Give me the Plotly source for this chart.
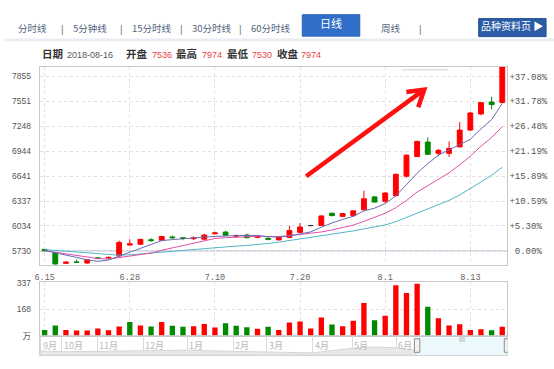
import plotly.graph_objects as go

# ---------------- data ----------------
dates = ["2018-06-15", "2018-06-19", "2018-06-20", "2018-06-21", "2018-06-22", "2018-06-25",
         "2018-06-26", "2018-06-27", "2018-06-28", "2018-06-29", "2018-07-02", "2018-07-03",
         "2018-07-04", "2018-07-05", "2018-07-06", "2018-07-09", "2018-07-10", "2018-07-11",
         "2018-07-12", "2018-07-13", "2018-07-16", "2018-07-17", "2018-07-18", "2018-07-19",
         "2018-07-20", "2018-07-23", "2018-07-24", "2018-07-25", "2018-07-26", "2018-07-27",
         "2018-07-30", "2018-07-31", "2018-08-01", "2018-08-02", "2018-08-03", "2018-08-06",
         "2018-08-07", "2018-08-08", "2018-08-09", "2018-08-10", "2018-08-13", "2018-08-14",
         "2018-08-15", "2018-08-16"]
opens = [5748, 5706, 5578, 5595, 5582, 5645, 5642, 5668, 5800, 5810, 5865, 5860, 5900, 5890, 5878,
         5872, 5938, 5958, 5908, 5922, 5893, 5882, 5863, 5893, 5955, 6038, 6040, 6188, 6150, 6158,
         6229, 6387, 6335, 6403, 6639, 6878, 7055, 6918, 6918, 6996, 7201, 7397, 7543, 7536]
highs = [5752, 5710, 5608, 5625, 5628, 5655, 5662, 5855, 5872, 5875, 5885, 5912, 5915, 5893, 5905,
         5938, 5962, 5975, 5930, 5940, 5918, 5895, 5905, 6035, 6068, 6048, 6165, 6195, 6190, 6222,
         6462, 6400, 6445, 6670, 6905, 7072, 7111, 6970, 7063, 7299, 7420, 7540, 7606, 7974]
lows = [5725, 5566, 5568, 5588, 5575, 5628, 5632, 5660, 5795, 5805, 5840, 5852, 5880, 5860, 5862,
        5868, 5930, 5912, 5893, 5882, 5888, 5858, 5858, 5888, 5950, 6030, 6035, 6150, 6140, 6150,
        6222, 6318, 6308, 6390, 6623, 6875, 6900, 6886, 6875, 6990, 7190, 7382, 7453, 7530]
closes = [5730, 5570, 5592, 5590, 5622, 5637, 5650, 5832, 5815, 5870, 5855, 5905, 5890, 5882, 5888,
          5922, 5948, 5920, 5916, 5890, 5912, 5872, 5899, 5978, 6020, 6038, 6155, 6160, 6185, 6217,
          6364, 6324, 6434, 6662, 6895, 7063, 6906, 6954, 6977, 7201, 7409, 7535, 7512, 7974]
ma5 = [5736, 5706, 5677, 5647, 5621, 5602, 5618, 5666, 5711, 5761, 5804, 5855, 5867, 5880, 5884,
       5897, 5906, 5912, 5919, 5919, 5917, 5902, 5898, 5910, 5936, 5961, 6018, 6070, 6112, 6151,
       6216, 6250, 6305, 6400, 6536, 6676, 6792, 6896, 6959, 7020, 7089, 7215, 7327, 7526]
ma10 = [5732, 5712, 5692, 5672, 5652, 5636, 5630, 5650, 5672, 5691, 5703, 5737, 5767, 5796, 5822,
        5851, 5881, 5890, 5900, 5902, 5907, 5904, 5905, 5915, 5928, 5939, 5960, 5984, 6011, 6044,
        6089, 6134, 6188, 6256, 6343, 6446, 6521, 6600, 6680, 6778, 6883, 7004, 7111, 7243]
ma20 = [5745, 5735, 5725, 5715, 5705, 5695, 5685, 5677, 5682, 5693, 5704, 5715, 5727, 5739, 5751,
        5763, 5772, 5780, 5788, 5796, 5805, 5820, 5836, 5855, 5875, 5895, 5920, 5937, 5955, 5973,
        5998, 6019, 6046, 6085, 6136, 6193, 6241, 6292, 6345, 6411, 6486, 6569, 6650, 6749]
volumes = [37, 65, 36, 33, 33, 47, 35, 59, 87, 65, 59, 87, 63, 57, 61, 75, 53, 79, 63, 55,
           45, 57, 36, 85, 91, 47, 116, 71, 61, 96, 209, 98, 128, 321, 272, 331, 185, 112, 65, 73,
           36, 41, 35, 57]
vol_dir = [-1, -1, 1, 1, 1, 1, 1, 1, -1, 1, -1, 1, -1, -1, 1, 1, 1, -1, -1, -1,
           1, -1, 1, 1, 1, 1, 1, -1, 1, 1, 1, -1, 1, 1, 1, 1, -1, 1, 1, 1,
           1, 1, -1, 1]

price_tick_labels = ["5730", "6034", "6337", "6641", "6944", "7248", "7551", "7855"]
pct_tick_labels = ["\u00a00.00%", "+5.30%", "+10.59%", "+15.89%", "+21.19%", "+26.48%", "+31.78%", "+37.08%"]
date_tick_dates = ["2018-06-15", "2018-06-28", "2018-07-10", "2018-07-20", "2018-08-01", "2018-08-13"]
date_tick_labels = ["6.15", "6.28", "7.10", "7.20", "8.1", "8.13"]
vol_tick_vals = [0, 168, 337]
vol_tick_labels = ["万", "168", "337"]

nav_month_labels = ["9月", "10月", "11月", "12月", "1月", "2月", "3月", "4月", "5月", "6月"]
nav_month_start = [0, 10, 27, 49, 70, 92, 108, 130, 149, 170]
nav_overview_idx = [0, 10, 27, 49, 70, 92, 108, 130, 149, 160, 170, 180]
nav_overview_level = [22, 18, 20, 24, 26, 20, 17, 12, 36, 42, 38, 25]
nav_sel = [180, 223]

tab_labels = ["分时线", "5分钟线", "15分时线", "30分时线", "60分时线", "日线", "周线"]
info_date = "2018-08-16"
info_labels = ["开盘", "最高", "最低", "收盘"]
info_values = ["7536", "7974", "7530", "7974"]

# ---------------- layout / style ----------------
W, H = 554, 369
RED = "#ff0000"
GREEN = "#008a00"
GRID = "#e0e0e0"
BORDER = "#c8c8c8"
CJK = "Noto Sans CJK SC"


def px(x):
    return x / W


def py(y):
    return 1 - y / H


X0, X1 = 35, 507
MAIN_T, MAIN_B = 63.3, 267.3
VOL_T, VOL_B = 285, 340
NAV_T, NAV_B = 340, 360
XRANGE = [-0.4655, 43.484]
YRANGE = [5557, 7974]

fig = go.Figure()

n = len(dates)
normal = [i for i in range(n) if opens[i] != closes[i]]
doji = [i for i in range(n) if opens[i] == closes[i]]


def pick(arr, idx):
    return [arr[i] for i in idx]


fig.add_trace(go.Candlestick(
    x=pick(dates, normal), open=pick(opens, normal), high=pick(highs, normal),
    low=pick(lows, normal), close=pick(closes, normal),
    increasing=dict(line=dict(color=RED, width=1), fillcolor=RED),
    decreasing=dict(line=dict(color=GREEN, width=1), fillcolor=GREEN),
    whiskerwidth=0, xaxis="x", yaxis="y", hoverinfo="skip"))
if doji:
    fig.add_trace(go.Candlestick(
        x=pick(dates, doji), open=pick(opens, doji), high=pick(highs, doji),
        low=pick(lows, doji), close=pick(closes, doji),
        increasing=dict(line=dict(color="#333333", width=1), fillcolor="#333333"),
        decreasing=dict(line=dict(color="#333333", width=1), fillcolor="#333333"),
        whiskerwidth=0, xaxis="x", yaxis="y", hoverinfo="skip"))

for vals, col in [(ma20, "#52b6c6"), (ma10, "#e24fa8"), (ma5, "#6a6ab6")]:
    fig.add_trace(go.Scatter(x=dates, y=vals, mode="lines", line=dict(color=col, width=1),
                             xaxis="x", yaxis="y", hoverinfo="skip"))

# invisible trace to carry the percent axis
fig.add_trace(go.Scatter(x=dates, y=closes, mode="lines", line=dict(width=0), opacity=0,
                         xaxis="x", yaxis="y3", hoverinfo="skip"))

fig.add_trace(go.Bar(x=dates, y=volumes, width=0.5,
                     marker=dict(color=[RED if d > 0 else GREEN for d in vol_dir], line=dict(width=0)),
                     xaxis="x2", yaxis="y2", hoverinfo="skip"))

fig.add_trace(go.Scatter(x=nav_overview_idx, y=nav_overview_level, mode="lines", fill="tozeroy",
                         fillcolor="#e9e9e9", line=dict(color="#d6d6d6", width=1),
                         xaxis="x4", yaxis="y4", hoverinfo="skip"))

price_ticks = [float(t) for t in price_tick_labels]

xcommon = dict(type="category", categoryorder="array", categoryarray=dates, range=XRANGE,
               domain=[px(X0), px(X1)], tickvals=date_tick_dates, showgrid=True, gridcolor=GRID,
               griddash="3px,3px", zeroline=False, showline=True, linecolor=BORDER, mirror=True,
               ticks="", fixedrange=True)

fig.update_layout(
    width=W, height=H, margin=dict(l=0, r=0, t=0, b=0), autosize=False,
    paper_bgcolor="white", plot_bgcolor="white", showlegend=False, hovermode=False,
    boxgap=0.35,
    xaxis=dict(**xcommon, anchor="y", ticktext=date_tick_labels, showticklabels=True,
               tickfont=dict(family="Liberation Mono", size=8.5, color="#666666"),
               ticklabelstandoff=4, rangeslider=dict(visible=False)),
    yaxis=dict(domain=[py(MAIN_B), py(MAIN_T)], range=YRANGE, tickvals=price_ticks,
               ticktext=price_tick_labels, showgrid=True, gridcolor=GRID, griddash="3px,3px",
               zeroline=False, showline=True, linecolor=BORDER, mirror=True, ticks="",
               tickfont=dict(family="Liberation Sans", size=8.5, color="#555555"),
               ticklabelstandoff=6, anchor="x"),
    yaxis3=dict(overlaying="y", side="right", anchor="x", range=YRANGE, tickvals=price_ticks,
                ticktext=pct_tick_labels, showgrid=False, zeroline=False, showline=False, ticks="",
                tickfont=dict(family="Liberation Mono", size=9, color="#555555"),
                ticklabelstandoff=1),
    xaxis2=dict(**xcommon, anchor="y2", showticklabels=False),
    yaxis2=dict(domain=[py(VOL_B), py(VOL_T)], range=[0, 340], tickvals=vol_tick_vals,
                ticktext=vol_tick_labels, showgrid=True, gridcolor=GRID, griddash="3px,3px",
                zeroline=False, showline=True, linecolor=BORDER, mirror=True, ticks="",
                tickfont=dict(family="Liberation Sans, " + CJK, size=8.5, color="#555555"),
                ticklabelstandoff=6, anchor="x2"),
    xaxis4=dict(domain=[px(X0), px(X1)], range=[-0.5, 223.2], anchor="y4", tickvals=nav_month_start,
                showgrid=True, gridcolor="#dadada", showticklabels=False, zeroline=False,
                showline=False, ticks=""),
    yaxis4=dict(domain=[py(NAV_B), py(NAV_T)], range=[0, 100], visible=False, anchor="x4"),
)

shapes = []
annotations = []

# baseline (0.00%) line at the first close
shapes.append(dict(type="line", xref="paper", yref="y", x0=px(X0), x1=px(X1), y0=closes[0], y1=closes[0],
                   line=dict(color="#a9b5c8", width=1), layer="below"))

# navigator box, selection and handles
shapes.append(dict(type="rect", xref="paper", yref="paper", x0=px(X0), x1=px(X1), y0=py(NAV_B), y1=py(NAV_T),
                   line=dict(color=BORDER, width=1)))
shapes.append(dict(type="rect", xref="x4", yref="paper", x0=nav_sel[0], x1=223.2, y0=py(NAV_B - 0.5),
                   y1=py(NAV_T + 1.5), fillcolor="#ebf9fc", line=dict(width=0)))
for hx in nav_sel:
    shapes.append(dict(type="rect", xref="x4", yref="paper", x0=hx - 1.3, x1=hx + 1.3, y0=py(357),
                       y1=py(343), fillcolor="#f2f2f2", line=dict(color="#8c8c8c", width=1)))
annotations.append(dict(xref="x4", yref="paper", x=(nav_sel[0] + nav_sel[1]) / 2, y=py(349), text="III",
                        showarrow=False, font=dict(family="Liberation Sans", size=7, color="#9a9a9a")))
for lab, idx in zip(nav_month_labels, nav_month_start):
    annotations.append(dict(xref="x4", yref="paper", x=idx, y=py(350), text=lab, showarrow=False,
                            xanchor="left", yanchor="middle", xshift=0,
                            font=dict(family=CJK, size=9, color="#b8b8b8")))

# tab bar
tab_cx = [28, 86, 148.5, 208.5, 268.5, 329, 390]
sep_x = [58, 118, 178, 238, 419]
shapes.append(dict(type="rect", xref="paper", yref="paper", x0=px(300), x1=px(358), y0=py(32), y1=py(10),
                   fillcolor="#2f6fca", line=dict(color="#2a62b4", width=1)))
shapes.append(dict(type="rect", xref="paper", yref="paper", x0=px(478), x1=px(546), y0=py(32.5), y1=py(14),
                   fillcolor="#2b5ca6", line=dict(color="#244f92", width=1)))
shapes.append(dict(type="rect", xref="paper", yref="paper", x0=0, x1=1, y0=py(37.5), y1=py(34.5),
                   fillcolor="#e8edf3", line=dict(width=0)))
for lab, cx in zip(tab_labels, tab_cx):
    active = lab == "日线"
    annotations.append(dict(xref="paper", yref="paper", x=px(cx), y=py(19 if active else 24), text=lab,
                            showarrow=False, xanchor="center", yanchor="middle",
                            font=dict(family=CJK, size=11 if active else 9.5,
                                      color="white" if active else "#52637d")))
for sx in sep_x:
    annotations.append(dict(xref="paper", yref="paper", x=px(sx), y=py(25), text="|", showarrow=False,
                            xanchor="center", yanchor="middle",
                            font=dict(family="Liberation Sans", size=10, color="#777777")))
annotations.append(dict(xref="paper", yref="paper", x=px(512), y=py(21.5), text="品种资料页 ▶",
                        showarrow=False, xanchor="center", yanchor="middle",
                        font=dict(family=CJK, size=10, color="white")))

# header info line
HDR_Y = 50
annotations.append(dict(xref="paper", yref="paper", x=px(35), y=py(HDR_Y), text="<b>日期</b>", showarrow=False,
                        xanchor="left", yanchor="middle", font=dict(family=CJK, size=10.5, color="#333333")))
annotations.append(dict(xref="paper", yref="paper", x=px(61), y=py(HDR_Y + 1.5), text=info_date, showarrow=False,
                        xanchor="left", yanchor="middle",
                        font=dict(family="Liberation Sans", size=9, color="#555555")))
for lab, val, lx, vx in zip(info_labels, info_values, [120, 171, 222, 272], [146, 197, 247, 297]):
    annotations.append(dict(xref="paper", yref="paper", x=px(lx), y=py(HDR_Y), text="<b>" + lab + "</b>",
                            showarrow=False, xanchor="left", yanchor="middle",
                            font=dict(family=CJK, size=10.5, color="#333333")))
    annotations.append(dict(xref="paper", yref="paper", x=px(vx), y=py(HDR_Y + 1.5), text=val, showarrow=False,
                            xanchor="left", yanchor="middle",
                            font=dict(family="Liberation Sans", size=9, color="#e8413f")))

# faint marker line near the top right of the price panel
shapes.append(dict(type="line", xref="paper", yref="paper", x0=px(400), x1=px(447), y0=py(66.7), y1=py(66.7),
                   line=dict(color="#d0d0d0", width=1)))

# big red trend arrow (decoration)
tail, tip, arm1, arm2 = (304, 176), (423, 87), (405, 89.5), (417, 105)
shapes.append(dict(type="path", xref="paper", yref="paper",
                   path=f"M {px(tail[0])},{py(tail[1])} L {px(tip[0])},{py(tip[1])}",
                   line=dict(color="#ff1010", width=4.5)))
shapes.append(dict(type="path", xref="paper", yref="paper",
                   path=f"M {px(arm1[0])},{py(arm1[1])} L {px(tip[0])},{py(tip[1])} L {px(arm2[0])},{py(arm2[1])}",
                   line=dict(color="#ff1010", width=4.5)))

fig.update_layout(shapes=shapes, annotations=annotations)
fig.write_html("out.html", config={"displayModeBar": False, "staticPlot": True},
               post_script="document.body.style.margin='0';document.body.style.overflow='hidden';")
